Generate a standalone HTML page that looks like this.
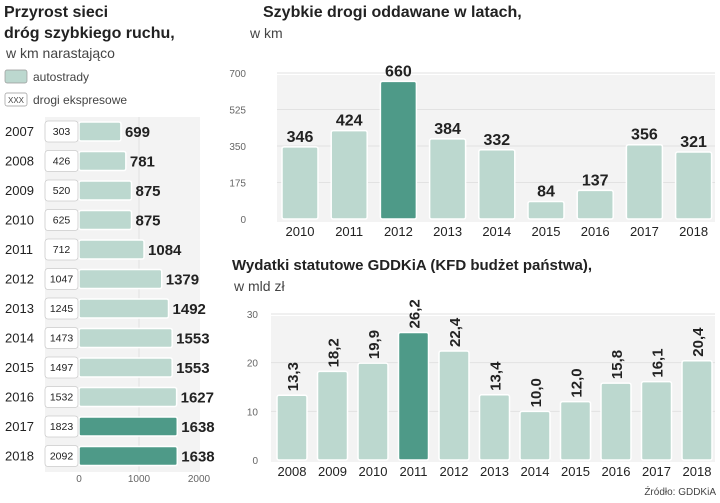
<!DOCTYPE html>
<html><head><meta charset="utf-8"><style>
body{margin:0;background:#fff;width:720px;height:498px;overflow:hidden;font-family:"Liberation Sans",sans-serif}
svg text{font-family:"Liberation Sans",sans-serif}
.b{font-weight:bold;font-family:"Liberation Sans Narrow","Liberation Sans",sans-serif}
</style></head><body>
<svg id="c" width="720" height="498" xmlns="http://www.w3.org/2000/svg">
<text x="4" y="17" font-size="16" font-weight="bold" fill="#222">Przyrost sieci</text>
<text x="4" y="38" font-size="16" font-weight="bold" fill="#222">dróg szybkiego ruchu,</text>
<text x="6" y="58" font-size="14" fill="#444">w km narastająco</text>
<rect x="5" y="70" width="22" height="13" rx="2" fill="#bcd8cf" stroke="#999" stroke-width="0.7"/>
<text x="33" y="81" font-size="12" fill="#444">autostrady</text>
<rect x="5" y="93" width="22" height="13" rx="2" fill="#fff" stroke="#999" stroke-width="0.7"/>
<text x="8" y="103" font-size="8" fill="#444">XXX</text>
<text x="33" y="104" font-size="12" fill="#444">drogi ekspresowe</text>
<rect x="45" y="117" width="155" height="355" fill="#f3f3f3"/>
<line x1="139" y1="117" x2="139" y2="472" stroke="#e2e2e2"/>
<text x="263" y="17" font-size="16" font-weight="bold" fill="#222">Szybkie drogi oddawane w latach,</text>
<text x="250" y="38" font-size="14" fill="#444">w km</text>
<text x="232" y="270" font-size="15" font-weight="bold" fill="#222">Wydatki statutowe GDDKiA (KFD budżet państwa),</text>
<text x="234" y="291" font-size="14" fill="#444">w mld zł</text>
<rect x="277" y="75" width="438" height="147" fill="#f3f3f3"/>
<rect x="271" y="316" width="444" height="146" fill="#f3f3f3"/>
<text x="716" y="495" font-size="10" fill="#444" text-anchor="end">Źródło: GDDKiA</text>
<g id="g"></g>
</svg>
<script>
const years1=['2007','2008','2009','2010','2011','2012','2013','2014','2015','2016','2017','2018'];
const autostrady=[699,781,875,875,1084,1379,1492,1553,1553,1627,1638,1638];
const ekspresowe=[303,426,520,625,712,1047,1245,1473,1497,1532,1823,2092];
const ticks1=[0,1000,2000];
const years2=['2010','2011','2012','2013','2014','2015','2016','2017','2018'];
const km=[346,424,660,384,332,84,137,356,321];
const ticks2=[0,175,350,525,700];
const years3=['2008','2009','2010','2011','2012','2013','2014','2015','2016','2017','2018'];
const spend=[13.3,18.2,19.9,26.2,22.4,13.4,10.0,12.0,15.8,16.1,20.4];
const ticks3=[0,10,20,30];
const LIGHT='#bcd8cf',DARK='#4e9a88';
const g=document.getElementById('g');
function el(t,a,txt){const e=document.createElementNS('http://www.w3.org/2000/svg',t);for(const k in a)e.setAttribute(k,a[k]);if(txt!==undefined)e.textContent=txt;g.appendChild(e);return e;}
// left chart
const x1=v=>79+v*0.06, y1=i=>131+i*29.5;
ticks1.forEach(t=>{const e=el('text',{x:x1(t),y:482,'font-size':10,fill:'#666','text-anchor':'middle'},t);

});
years1.forEach((yr,i)=>{const cy=y1(i);
let e=el('text',{x:5,y:cy+5,'font-size':13,fill:'#222'},yr);


e=el('rect',{x:x1(0),y:cy-9,width:x1(autostrady[i])-x1(0),height:19,rx:2,fill:i>=10?DARK:LIGHT,stroke:'#fff','stroke-width':1.5});


e=el('rect',{x:45,y:cy-10,width:33,height:21,rx:3,fill:'#fff',stroke:'#ccc','stroke-width':0.8});


e=el('text',{x:61.5,y:cy+4,'font-size':10.5,fill:'#222','text-anchor':'middle'},ekspresowe[i]);


e=el('text',{x:x1(autostrady[i])+4,y:cy+6,'font-size':15,'font-weight':'bold',fill:'#222',class:'b'},autostrady[i]);

});
// top chart
const y2=v=>219-v*146/700, x2=i=>300+i*49.2;
ticks2.forEach(t=>{let e=el('text',{x:246,y:y2(t)+4,'font-size':10,fill:'#666','text-anchor':'end'},t);


if(t>0){e=el('line',{x1:277,x2:715,y1:y2(t),y2:y2(t),stroke:'#e2e2e2'});

}});
years2.forEach((yr,i)=>{const cx=x2(i);
let e=el('rect',{x:cx-18,y:y2(km[i]),width:36,height:y2(0)-y2(km[i]),rx:2,fill:yr==='2012'?DARK:LIGHT,stroke:'#fff','stroke-width':1.5});


e=el('text',{x:cx,y:y2(km[i])-5,'font-size':16,'font-weight':'bold',fill:'#222','text-anchor':'middle',class:'b'},km[i]);


e=el('text',{x:cx,y:236,'font-size':13,fill:'#222','text-anchor':'middle'},yr);

});
// bottom chart
const y3=v=>460-v*146/30, x3=i=>292+i*40.5;
ticks3.forEach(t=>{let e=el('text',{x:258,y:y3(t)+4,'font-size':10,fill:'#666','text-anchor':'end'},t);


if(t>0){e=el('line',{x1:271,x2:715,y1:y3(t),y2:y3(t),stroke:'#e2e2e2'});

}});
years3.forEach((yr,i)=>{const cx=x3(i);
let e=el('rect',{x:cx-15,y:y3(spend[i]),width:30,height:y3(0)-y3(spend[i]),rx:2,fill:yr==='2011'?DARK:LIGHT,stroke:'#fff','stroke-width':1.5});


const ty=y3(spend[i])-4;
e=el('text',{x:cx+6,y:ty,'font-size':15,'font-weight':'bold',fill:'#222',class:'b',transform:`rotate(-90 ${cx+6} ${ty})`},spend[i].toFixed(1).replace('.',','));


e=el('text',{x:cx,y:476,'font-size':13,fill:'#222','text-anchor':'middle'},yr);

});
</script>
</body></html>
